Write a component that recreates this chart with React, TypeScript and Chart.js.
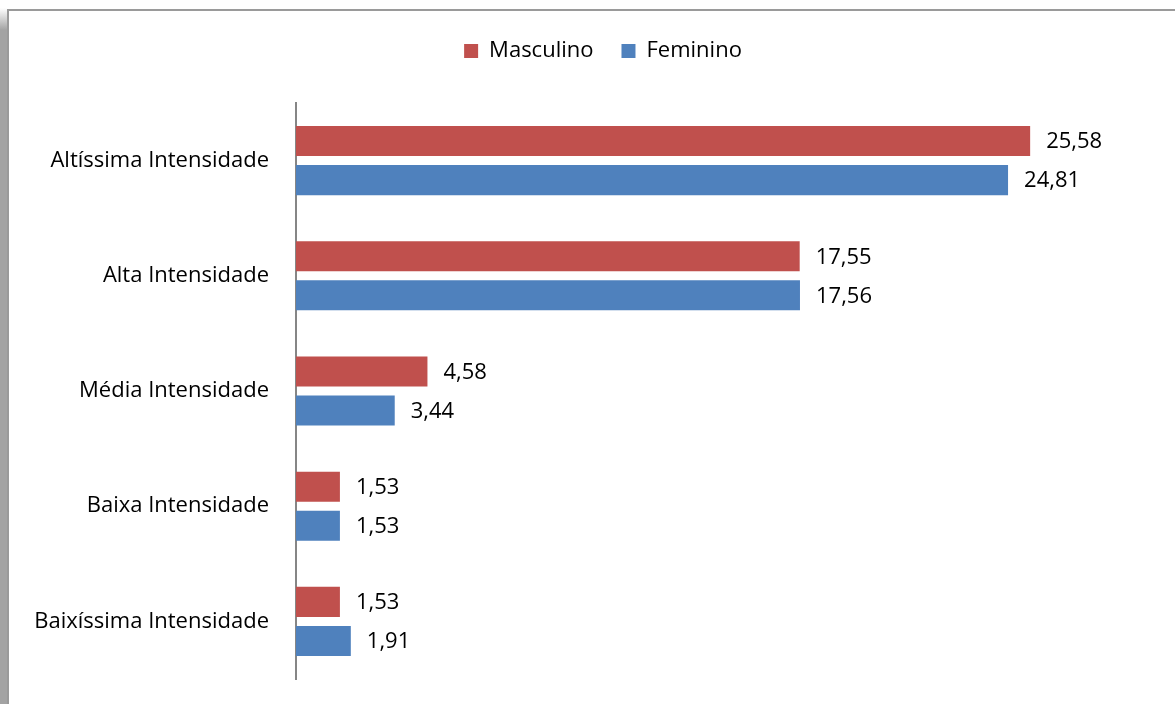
import { useEffect, useRef } from "react";
import { Chart, registerables } from "chart.js";

Chart.register(...registerables);

const categories = [
  "Altíssima Intensidade",
  "Alta Intensidade",
  "Média Intensidade",
  "Baixa Intensidade",
  "Baixíssima Intensidade",
];
const masculino = [25.58, 17.55, 4.58, 1.53, 1.53];
const feminino = [24.81, 17.56, 3.44, 1.53, 1.91];
const seriesNames = ["Masculino", "Feminino"];
const xMax = 30;

const FONT = "'Open Sans', sans-serif";
const FS = 22;

const valueLabels = {
  id: "valueLabels",
  afterDatasetsDraw(chart: any) {
    const ctx = chart.ctx;
    ctx.save();
    ctx.font = `${FS}px ${FONT}`;
    ctx.fillStyle = "#000";
    ctx.textAlign = "left";
    ctx.textBaseline = "middle";
    chart.data.datasets.forEach((ds: any, i: number) => {
      const meta = chart.getDatasetMeta(i);
      meta.data.forEach((el: any, j: number) => {
        const v = ds.data[j] as number;
        ctx.fillText(v.toFixed(2).replace(".", ","), el.x + 16, el.y + 1);
      });
    });
    ctx.restore();
  },
};

const legendMargin = {
  id: "legendMargin",
  beforeInit(chart: any) {
    if (!chart.legend) return;
    const origFit = chart.legend.fit;
    chart.legend.fit = function () {
      origFit.call(this);
      this.height += 31;
    };
  },
  afterLayout(chart: any) {
    if (chart.legend) chart.legend.left += 40;
  },
};

export default function App() {
  const ref = useRef<HTMLCanvasElement>(null);

  useEffect(() => {
    if (!ref.current) return;
    const chart = new Chart(ref.current, {
      type: "bar",
      data: {
        labels: categories,
        datasets: [
          {
            label: seriesNames[0],
            data: masculino,
            backgroundColor: "#C0504D",
            categoryPercentage: 0.678,
            barPercentage: 0.77,
          },
          {
            label: seriesNames[1],
            data: feminino,
            backgroundColor: "#4F81BD",
            categoryPercentage: 0.678,
            barPercentage: 0.77,
          },
        ],
      },
      options: {
        indexAxis: "y",
        animation: false,
        responsive: false,
        maintainAspectRatio: false,
        layout: { padding: { top: 1, right: 18, bottom: 25, left: 0 } },
        plugins: {
          legend: {
            display: true,
            position: "top",
            labels: {
              font: { family: FONT, size: FS },
              color: "#000",
              boxWidth: 14,
              boxHeight: 14,
              padding: 28,
            },
          },
          tooltip: { enabled: false },
        },
        scales: {
          x: {
            display: false,
            min: 0,
            max: xMax,
          },
          y: {
            grid: {
              display: true,
              drawOnChartArea: false,
              drawTicks: true,
              tickLength: 27,
              color: "rgba(0,0,0,0)",
            },
            border: { display: true, color: "#868686", width: 2 },
            ticks: {
              font: { family: FONT, size: FS },
              color: "#000",
              padding: 0,
            },
            afterFit: (scale: any) => {
              scale.width = 287;
            },
          },
        },
      },
      plugins: [legendMargin, valueLabels],
    });
    return () => chart.destroy();
  }, []);

  return (
    <div
      style={{
        position: "fixed",
        left: 0,
        top: 0,
        width: 1175,
        height: 704,
        background: "#fff",
        overflow: "hidden",
      }}
    >
      <div
        style={{
          position: "absolute",
          left: 0,
          top: 8,
          width: 7,
          bottom: 0,
          background: "linear-gradient(to bottom, #ffffff 0px, #a3a3a3 22px, #a3a3a3 100%)",
        }}
      />
      <div
        style={{
          position: "absolute",
          left: 7,
          top: 9,
          right: 0,
          bottom: 0,
          borderTop: "2px solid #9a9a9a",
          borderLeft: "2px solid #9a9a9a",
          background: "#fff",
        }}
      >
        <canvas ref={ref} width={1166} height={693} style={{ display: "block", width: 1166, height: 693 }} />
      </div>
    </div>
  );
}
